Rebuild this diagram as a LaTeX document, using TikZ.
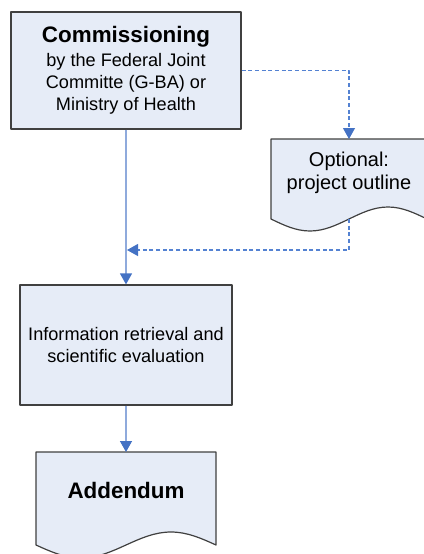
\documentclass[tikz,border=0pt]{standalone}
\usepackage{fontspec}
\setmainfont{Liberation Sans}
\usetikzlibrary{arrows.meta}
\definecolor{boxfill}{RGB}{230,236,247}
\definecolor{linkblue}{RGB}{143,170,220}
\definecolor{dashblue}{RGB}{84,130,210}
\definecolor{tipblue}{RGB}{68,114,196}
\begin{document}
\begin{tikzpicture}[x=0.75pt, y=-0.75pt, line join=round,
  >={Triangle[width=9pt,length=8.25pt,color=tipblue]},
  box/.style={draw=black!75, line width=0.9pt, fill=boxfill, align=center, inner sep=0pt},
  doctext/.style={align=center, inner sep=0pt},
  link/.style={draw=linkblue, line width=1pt, ->},
  dashlink/.style={draw=dashblue, line width=0.8pt, dash pattern=on 3pt off 2pt, ->}]
\useasboundingbox (0,0) rectangle (424,554);
\clip (0,0) rectangle (424,554);
% document shape: left x, width, top y, wave y, wave height
\def\docshape#1#2#3#4#5{%
  \draw[box] (#1,#3) -- ({#1+#2},#3) -- ({#1+#2},#4)
    sin ({#1+0.75*#2},{#4-#5}) cos ({#1+0.5*#2},#4)
    sin ({#1+0.25*#2},{#4+#5}) cos (#1,#4) -- cycle;}
\node[box, minimum width=172.5pt, minimum height=87.75pt, font=\fontsize{13.6}{16.5}\selectfont] (commission) at (126,70.5)
  {{\fontsize{16.8}{18}\selectfont\bfseries Commissioning}\\[1.5pt]by the Federal Joint\\Committe (G-BA) or\\Ministry of Health};
\docshape{271}{156}{139}{219}{12}
\node[doctext, font=\fontsize{15}{17.25}\selectfont] (outline) at (349,172.5) {Optional:\\project outline};
\path (349,139) coordinate (outlinetop) (349,219) coordinate (outlinebottom) (127,250) coordinate (merge);
\node[box, minimum width=159pt, minimum height=90pt, font=\fontsize{13.6}{17}\selectfont] (retrieval) at (126,345)
  {Information retrieval and\\scientific evaluation};
\docshape{36}{180}{452}{545}{13}
\node[doctext, font=\fontsize{16.8}{18}\selectfont\bfseries] (addendum) at (126,490) {Addendum};
\coordinate (addendumtop) at (126,452);
\draw[link] (commission) -- (retrieval);
\draw[link] (retrieval) -- (addendumtop);
\draw[dashlink] (commission.east) -| (outlinetop);
\draw[dashlink] (outlinebottom) |- (merge);
\end{tikzpicture}
\end{document}
